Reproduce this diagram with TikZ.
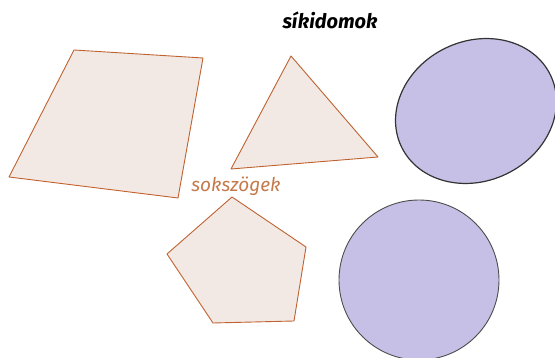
\documentclass[tikz,border=0pt]{standalone}
\usepackage{fontspec}
\setmainfont{Fira Sans}
\definecolor{polyfill}{HTML}{F3E9E4}
\definecolor{polyline}{HTML}{C0622F}
\definecolor{ovalfill}{HTML}{C6C0E6}
\definecolor{labelbrown}{HTML}{C47A4A}
\begin{document}
\begin{tikzpicture}[x=1pt,y=1pt,
  poly/.style={draw=polyline, fill=polyfill, line width=0.9pt, line join=round},
  oval/.style={draw=black!80, fill=ovalfill, line width=1.2pt},
  title/.style={font=\fontsize{20}{24}\selectfont\itshape\bfseries, text=black, inner sep=0pt},
  sublabel/.style={font=\fontsize{19}{23}\selectfont\itshape, text=labelbrown, inner sep=0pt}]
\useasboundingbox (0,0) rectangle (555,358);
% quadrilateral
\coordinate (q1) at (74,308);
\coordinate (q2) at (203,300);
\coordinate (q3) at (178,160);
\coordinate (q4) at (9,181);
\draw[poly] (q1) -- (q2) -- (q3) -- (q4) -- cycle;
% triangle
\coordinate (t1) at (291,302);
\coordinate (t2) at (378,201);
\coordinate (t3) at (231,189);
\draw[poly] (t1) -- (t2) -- (t3) -- cycle;
% pentagon
\coordinate (p1) at (232,161);
\coordinate (p2) at (306,111);
\coordinate (p3) at (294,37);
\coordinate (p4) at (213,35);
\coordinate (p5) at (167,104);
\draw[poly] (p1) -- (p2) -- (p3) -- (p4) -- (p5) -- cycle;
% ellipse
\coordinate (ec) at (476,247);
\draw[oval, rotate around={25.6:(ec)}] (ec) ellipse [x radius=82.7pt, y radius=69.9pt];
% circle
\coordinate (cc) at (419,78);
\draw[oval, line width=0.9pt, draw=black!70] (cc) circle [radius=80pt];
% labels
\node[title] (t) at (330,338) {síkidomok};
\node[sublabel] (s) at (236,172) {sokszögek};
\end{tikzpicture}
\end{document}
